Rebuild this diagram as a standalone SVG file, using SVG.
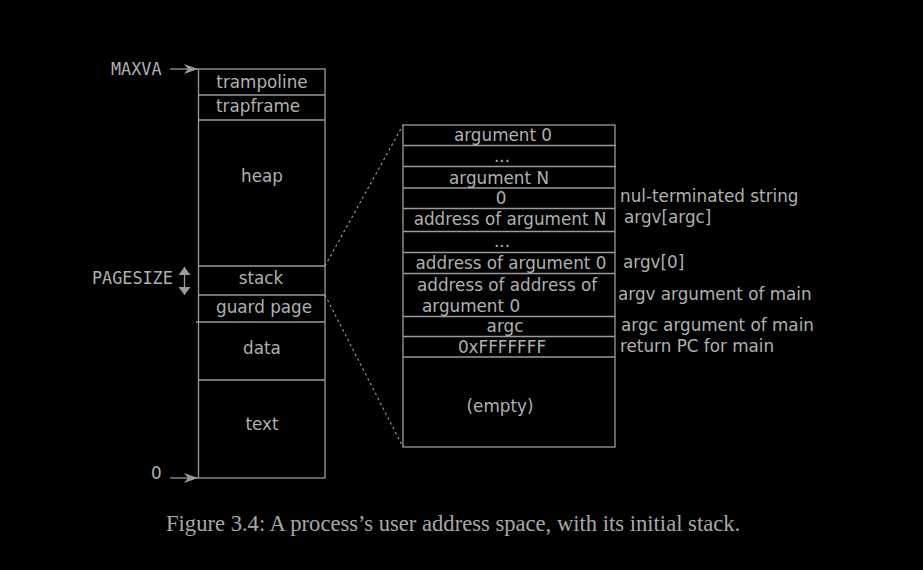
<svg xmlns="http://www.w3.org/2000/svg" width="923" height="570" viewBox="0 0 923 570">
<style>
.t{font-family:"DejaVu Sans",sans-serif;font-size:16.8px;fill:#b0b0b0}
.c{text-anchor:middle}
.m{font-family:"DejaVu Sans Mono",monospace;font-size:16.8px;fill:#b0b0b0}
.ln{stroke:#9a9a9a;stroke-width:1.3;fill:none}
.d{stroke:#9a9a9a;stroke-width:1.1;fill:none;stroke-dasharray:2.5,3}
.cap{font-family:"Liberation Serif",serif;font-size:22.6px;fill:#a8a8a8}
</style>
<defs>
<marker id="ah" viewBox="0 0 14 10" refX="14" refY="5" markerWidth="14" markerHeight="10" markerUnits="userSpaceOnUse" orient="auto">
<path d="M0,0 L14,5 L0,10 L4,5 Z" fill="#9a9a9a"/>
</marker>
<marker id="ah2" viewBox="0 0 8 12" refX="8" refY="6" markerWidth="8" markerHeight="12" markerUnits="userSpaceOnUse" orient="auto-start-reverse">
<path d="M0,0 L8,6 L0,12 Z" fill="#9a9a9a"/>
</marker>
</defs>
<rect width="923" height="570" fill="#000"/>
<g id="address-space">
<rect class="ln" x="198.5" y="69" width="126.5" height="409"/>
<line class="ln" x1="198.5" y1="95" x2="325" y2="95"/>
<line class="ln" x1="198.5" y1="120" x2="325" y2="120"/>
<line class="ln" x1="198.5" y1="266" x2="325" y2="266"/>
<line class="ln" x1="198.5" y1="295" x2="325" y2="295"/>
<line class="ln" x1="196" y1="322" x2="325" y2="322"/>
<line class="ln" x1="198.5" y1="380" x2="325" y2="380"/>
</g>
<g id="trampoline"><text class="t c" x="262" y="88">trampoline</text></g>
<g id="trapframe"><text class="t" x="216" y="112">trapframe</text></g>
<g id="heap"><text class="t c" x="262" y="182">heap</text></g>
<g id="stack"><text class="t c" x="261" y="284">stack</text></g>
<g id="guard-page"><text class="t" x="216" y="313">guard page</text></g>
<g id="data"><text class="t c" x="262" y="354">data</text></g>
<g id="text"><text class="t c" x="262" y="430">text</text></g>
<g id="maxva"><text class="m" x="111" y="75">MAXVA</text></g>
<g id="zero"><text class="t" x="151" y="479">0</text></g>
<g id="pagesize"><text class="m" x="92" y="284">PAGESIZE</text></g>
<g id="initial-stack">
<rect class="ln" x="403" y="125" width="212" height="322"/>
<line class="ln" x1="403" y1="145.5" x2="616" y2="145.5"/>
<line class="ln" x1="403" y1="166.5" x2="616" y2="166.5"/>
<line class="ln" x1="403" y1="188" x2="615" y2="188"/>
<line class="ln" x1="403" y1="208.5" x2="615" y2="208.5"/>
<line class="ln" x1="403" y1="231.5" x2="615" y2="231.5"/>
<line class="ln" x1="403" y1="252.5" x2="615" y2="252.5"/>
<line class="ln" x1="403" y1="273.5" x2="615" y2="273.5"/>
<line class="ln" x1="403" y1="316.5" x2="615" y2="316.5"/>
<line class="ln" x1="403" y1="336.5" x2="615" y2="336.5"/>
<line class="ln" x1="403" y1="357" x2="615" y2="357"/>
<text class="t c" x="503" y="141">argument 0</text>
<text class="t c" x="502" y="162">...</text>
<text class="t c" x="499" y="184">argument N</text>
<text class="t c" x="501" y="204">0</text>
<text class="t c" x="510" y="225">address of argument N</text>
<text class="t c" x="502" y="247">...</text>
<text class="t c" x="511" y="269">address of argument 0</text>
<text class="t" x="417" y="291">address of address of</text>
<text class="t" x="422" y="312">argument 0</text>
<text class="t c" x="505" y="332">argc</text>
<text class="t c" x="502" y="353">0xFFFFFFF</text>
<text class="t c" x="500" y="412">(empty)</text>
</g>
<g id="annotations">
<text class="t" x="620" y="202">nul-terminated string</text>
<text class="t" x="624" y="223">argv[argc]</text>
<text class="t" x="623" y="268">argv[0]</text>
<text class="t" x="618" y="300">argv argument of main</text>
<text class="t" x="621" y="331">argc argument of main</text>
<text class="t" x="620" y="352">return PC for main</text>
</g>
<g id="connectors">
<line class="ln" x1="170" y1="69" x2="198" y2="69" marker-end="url(#ah)"/>
<line class="ln" x1="170" y1="478" x2="198" y2="478" marker-end="url(#ah)"/>
<line class="ln" x1="184.5" y1="267" x2="184.5" y2="295" marker-start="url(#ah2)" marker-end="url(#ah2)"/>
<line class="d" x1="325" y1="266" x2="403" y2="125"/>
<line class="d" x1="325" y1="295" x2="403" y2="447"/>
</g>
<g id="caption"><text class="cap" x="166" y="531">Figure 3.4: A process’s user address space, with its initial stack.</text></g>
</svg>
